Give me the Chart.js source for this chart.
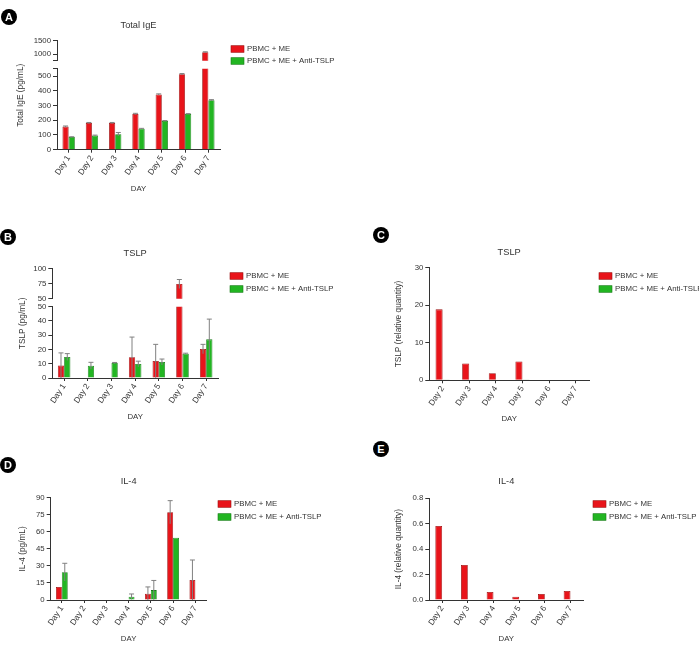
<!DOCTYPE html>
<html>
<head>
<meta charset="utf-8">
<script src="https://cdn.jsdelivr.net/npm/chart.js@4.4.1/dist/chart.umd.min.js"></script>
<style>
  html, body { margin: 0; padding: 0; background: #fff; }
  body { width: 699px; height: 646px; position: relative; overflow: hidden; }
  canvas { position: absolute; }
  .tag { position: absolute; width: 16px; height: 16px; border-radius: 50%; background: #000; color: #fff;
         font: bold 11px "Liberation Sans", Arial, sans-serif; line-height: 16px; text-align: center; z-index: 2; }
</style>
</head>
<body>
<canvas id="chartA"></canvas>
<canvas id="chartB"></canvas>
<canvas id="chartC"></canvas>
<canvas id="chartD"></canvas>
<canvas id="chartE"></canvas>
<div class="tag" style="left:1px;top:9px">A</div>
<div class="tag" style="left:0px;top:229px">B</div>
<div class="tag" style="left:373px;top:227px">C</div>
<div class="tag" style="left:0px;top:457px">D</div>
<div class="tag" style="left:373px;top:441px">E</div>
<script>
const days = ['Day 1', 'Day 2', 'Day 3', 'Day 4', 'Day 5', 'Day 6', 'Day 7'];
const daysRq = ['Day 2', 'Day 3', 'Day 4', 'Day 5', 'Day 6', 'Day 7'];
const nameMe = 'PBMC + ME';
const nameAnti = 'PBMC + ME + Anti-TSLP';

// A - Total IgE (pg/mL), broken axis
const igeMe = [157, 181, 181, 243, 375, 512, 1070];
const igeMeErr = [4, 4, 4, 4, 4, 5, 15];
const igeAnti = [86, 96, 105, 143, 196, 243, 336];
const igeAntiErr = [2, 3, 12, 2, 2, 2, 4];
const igeTopTicks = [750, 1000, 1500];
const igeTopLabels = ['', '1000', '1500'];
const igeLowTicks = [0, 100, 200, 300, 400, 500, 550];
const igeLowLabels = ['0', '100', '200', '300', '400', '500', ''];

// B - TSLP (pg/mL), broken axis
const tslpMe = [8.8, 0, 0, 14.5, 11.9, 74.5, 20.3];
const tslpMeErr = [8.8, 0, 0, 14.2, 11.7, 7.5, 3.3];
const tslpAnti = [14.7, 8.6, 10.5, 9.8, 11.2, 17, 27.1];
const tslpAntiErr = [2.4, 2.4, 0.4, 2, 2.1, 0.4, 14.2];
const tslpTopTicks = [50, 75, 100];
const tslpTopLabels = ['50', '75', '100'];
const tslpLowTicks = [0, 10, 20, 30, 40, 50];
const tslpLowLabels = ['0', '10', '20', '30', '40', '50'];

// C - TSLP (relative quantity)
const tslpRqMe = [18.9, 4.5, 1.9, 5.0, 0, 0];
const tslpRqAnti = [0.2, 0, 0, 0.1, 0, 0];
const tslpRqTicks = [0, 10, 20, 30];
const tslpRqLabels = ['0', '10', '20', '30'];

// D - IL-4 (pg/mL)
const il4Me = [11.5, 0, 0, 0, 5.5, 77.2, 17.6];
const il4MeErr = [0, 0, 0, 0, 6, 10.2, 17.6];
const il4Anti = [24.5, 0, 0, 2.9, 8.7, 54.8, 0];
const il4AntiErr = [7.8, 0, 0, 2.4, 8.5, 0, 0];
const il4Ticks = [0, 15, 30, 45, 60, 75, 90];
const il4Labels = ['0', '15', '30', '45', '60', '75', '90'];

// E - IL-4 (relative quantity)
const il4RqMe = [0.583, 0.276, 0.063, 0.026, 0.047, 0.071];
const il4RqAnti = [0, 0, 0, 0, 0, 0];
const il4RqTicks = [0, 0.2, 0.4, 0.6, 0.8];
const il4RqLabels = ['0.0', '0.2', '0.4', '0.6', '0.8'];

const font = '"Liberation Sans", Arial, sans-serif';
const ink = '#333';
const red = '#e8141a';
const redEdge = '#9a1010';
const green = '#22b522';
const greenEdge = '#177a17';
const TICK_SIZE = 7.8;
const DAY_SIZE = 8.2;
const TITLE_SIZE = 9.25;
const Y_W = 28;

const errorBars = {
  id: 'errorBars',
  afterDatasetsDraw(chart) {
    const ctx = chart.ctx;
    const a = chart.chartArea;
    chart.data.datasets.forEach((ds, d) => {
      if (!ds.errors) return;
      const meta = chart.getDatasetMeta(d);
      const ys = chart.scales[meta.yAxisID];
      ctx.save();
      ctx.beginPath();
      ctx.rect(a.left, ys.top - 2, a.right - a.left, ys.bottom - ys.top + 2);
      ctx.clip();
      ctx.strokeStyle = '#808080';
      ctx.lineWidth = 1;
      meta.data.forEach((bar, i) => {
        const e = ds.errors[i];
        if (!e) return;
        const v = ds.data[i];
        const top = ys.getPixelForValue(v + e);
        const bot = ys.getPixelForValue(Math.max(v - e, 0));
        ctx.beginPath();
        ctx.moveTo(bar.x, bot);
        ctx.lineTo(bar.x, top);
        ctx.moveTo(bar.x - 2.5, top);
        ctx.lineTo(bar.x + 2.5, top);
        ctx.stroke();
      });
      ctx.restore();
    });
  }
};

const sideLegend = {
  id: 'sideLegend',
  afterDraw(chart, args, opts) {
    const ctx = chart.ctx;
    ctx.save();
    ctx.font = TICK_SIZE + 'px ' + font;
    ctx.textBaseline = 'middle';
    chart.data.datasets.slice(0, 2).forEach((ds, k) => {
      const y = opts.y + k * opts.gap;
      ctx.fillStyle = ds.backgroundColor;
      ctx.fillRect(opts.x, y - 3.3, 13, 6.6);
      ctx.strokeStyle = ds.borderColor;
      ctx.lineWidth = 0.6;
      ctx.strokeRect(opts.x, y - 3.3, 13, 6.6);
      ctx.fillStyle = ink;
      ctx.fillText(ds.label, opts.x + 16, y);
    });
    ctx.restore();
  }
};

const yTitle = {
  id: 'yTitle',
  afterDraw(chart, args, opts) {
    const ctx = chart.ctx;
    const a = chart.chartArea;
    ctx.save();
    ctx.translate(opts.x, (a.top + a.bottom) / 2);
    ctx.rotate(-Math.PI / 2);
    ctx.font = '8.3px ' + font;
    ctx.fillStyle = ink;
    ctx.textAlign = 'center';
    ctx.textBaseline = 'middle';
    ctx.fillText(opts.text, 0, 0);
    ctx.restore();
  }
};

function yAxis(values, labels, extra) {
  return Object.assign({
    type: 'linear',
    position: 'left',
    stacked: false,
    min: values[0],
    max: values[values.length - 1],
    border: { color: ink, width: 1 },
    grid: { drawOnChartArea: false, tickLength: 4, color: ink, lineWidth: 1 },
    ticks: {
      color: ink, padding: 2, autoSkip: false,
      font: { family: font, size: TICK_SIZE },
      callback: (v, i) => labels[i]
    },
    afterBuildTicks: s => { s.ticks = values.map(v => ({ value: v })); },
    afterFit: s => { s.width = Y_W; }
  }, extra || {});
}

function gapAxis(stack, weight) {
  return {
    type: 'linear', position: 'left', stack: stack, stackWeight: weight,
    ticks: { display: false }, grid: { display: false }, border: { display: false },
    afterFit: s => { s.width = Y_W; }
  };
}

function bars(label, data, errors, color, edge, axis, stack) {
  return {
    label: label, data: data, errors: errors, yAxisID: axis, stack: stack,
    backgroundColor: color, borderColor: edge, borderWidth: 0.8,
    categoryPercentage: 0.53, barPercentage: 1
  };
}

function makePanel(id, box, area, cfg) {
  const canvas = document.getElementById(id);
  canvas.width = box.w;
  canvas.height = box.h;
  canvas.style.left = box.x + 'px';
  canvas.style.top = box.y + 'px';

  const titleLH = TITLE_SIZE * 1.2;
  const padTop = cfg.titleY - titleLH / 2 - box.y;
  const titleGap = area.t - (cfg.titleY + titleLH / 2);
  const xH = cfg.dayY + TICK_SIZE * 0.6 - area.b;

  const scales = Object.assign({
    x: {
      type: 'category',
      offset: true,
      border: { color: ink, width: 1 },
      grid: { offset: false, drawOnChartArea: false, tickLength: 3, color: ink },
      ticks: { color: ink, padding: 1, autoSkip: false, minRotation: 57, maxRotation: 57,
               font: { family: font, size: DAY_SIZE } },
      title: { display: true, text: 'DAY', color: ink, padding: 0, font: { family: font, size: TICK_SIZE } },
      afterFit: s => { s.height = xH; }
    }
  }, cfg.scales);

  return new Chart(canvas, {
    type: 'bar',
    data: { labels: cfg.labels, datasets: cfg.datasets },
    options: {
      responsive: false,
      animation: false,
      layout: {
        padding: {
          left: area.l - Y_W - box.x,
          right: box.x + box.w - area.r,
          top: padTop,
          bottom: box.y + box.h - area.b - xH
        }
      },
      scales: scales,
      plugins: {
        legend: { display: false },
        tooltip: { enabled: false },
        title: {
          display: true, text: cfg.title, fullSize: false, color: ink,
          font: { family: font, size: TITLE_SIZE, weight: 'normal' },
          padding: { top: 0, bottom: titleGap }
        },
        sideLegend: { x: cfg.legend[0] - box.x, y: cfg.legend[1] - box.y, gap: cfg.legend[2] },
        yTitle: { x: cfg.yTitleX - box.x, text: cfg.yTitle }
      }
    },
    plugins: [errorBars, sideLegend, yTitle]
  });
}

// A (stacked left scales are placed bottom-up in definition order)
makePanel('chartA', { x: 0, y: 18, w: 372, h: 190 }, { l: 57, r: 220, t: 40.7, b: 149.7 }, {
  title: 'Total IgE', yTitle: 'Total IgE (pg/mL)', yTitleX: 21, titleY: 25.5, dayY: 189,
  legend: [231, 49, 12], labels: days,
  datasets: [
    bars(nameMe, igeMe, igeMeErr, red, redEdge, 'yLow', 'me'),
    bars(nameAnti, igeAnti, igeAntiErr, green, greenEdge, 'yLow', 'anti'),
    bars(nameMe, igeMe, igeMeErr, red, redEdge, 'yTop', 'me'),
    bars(nameAnti, igeAnti, igeAntiErr, green, greenEdge, 'yTop', 'anti')
  ],
  scales: {
    yLow: yAxis(igeLowTicks, igeLowLabels, { stack: 'ige', stackWeight: 81 }),
    yGap: gapAxis('ige', 8),
    yTop: yAxis(igeTopTicks, igeTopLabels, { stack: 'ige', stackWeight: 20 })
  }
});

// B
makePanel('chartB', { x: 0, y: 240, w: 372, h: 185 }, { l: 52.3, r: 218, t: 268.7, b: 378 }, {
  title: 'TSLP', yTitle: 'TSLP (pg/mL)', yTitleX: 22.7, titleY: 253.3, dayY: 417,
  legend: [230, 276, 13], labels: days,
  datasets: [
    bars(nameMe, tslpMe, tslpMeErr, red, redEdge, 'yLow', 'me'),
    bars(nameAnti, tslpAnti, tslpAntiErr, green, greenEdge, 'yLow', 'anti'),
    bars(nameMe, tslpMe, tslpMeErr, red, redEdge, 'yTop', 'me'),
    bars(nameAnti, tslpAnti, tslpAntiErr, green, greenEdge, 'yTop', 'anti')
  ],
  scales: {
    yLow: yAxis(tslpLowTicks, tslpLowLabels, { stack: 'tslp', stackWeight: 71.3 }),
    yGap: gapAxis('tslp', 8),
    yTop: yAxis(tslpTopTicks, tslpTopLabels, { stack: 'tslp', stackWeight: 30 })
  }
});

// C
makePanel('chartC', { x: 376, y: 240, w: 323, h: 185 }, { l: 429.3, r: 589, t: 267.7, b: 380.3 }, {
  title: 'TSLP', yTitle: 'TSLP (relative quantity)', yTitleX: 398.3, titleY: 252.7, dayY: 419,
  legend: [599, 276, 13], labels: daysRq,
  datasets: [
    bars(nameMe, tslpRqMe, null, red, redEdge, 'y', 'me'),
    bars(nameAnti, tslpRqAnti, null, green, greenEdge, 'y', 'anti')
  ],
  scales: { y: yAxis(tslpRqTicks, tslpRqLabels) }
});

// D
makePanel('chartD', { x: 0, y: 470, w: 372, h: 176 }, { l: 50.7, r: 206.5, t: 497.7, b: 600 }, {
  title: 'IL-4', yTitle: 'IL-4 (pg/mL)', yTitleX: 22.5, titleY: 481.7, dayY: 639,
  legend: [218, 504, 13], labels: days,
  datasets: [
    bars(nameMe, il4Me, il4MeErr, red, redEdge, 'y', 'me'),
    bars(nameAnti, il4Anti, il4AntiErr, green, greenEdge, 'y', 'anti')
  ],
  scales: { y: yAxis(il4Ticks, il4Labels) }
});

// E
makePanel('chartE', { x: 376, y: 470, w: 323, h: 176 }, { l: 429.3, r: 583.3, t: 498.3, b: 600 }, {
  title: 'IL-4', yTitle: 'IL-4 (relative quantity)', yTitleX: 398.3, titleY: 481.7, dayY: 639,
  legend: [593, 504, 13], labels: daysRq,
  datasets: [
    bars(nameMe, il4RqMe, null, red, redEdge, 'y', 'me'),
    bars(nameAnti, il4RqAnti, null, green, greenEdge, 'y', 'anti')
  ],
  scales: { y: yAxis(il4RqTicks, il4RqLabels) }
});
</script>
</body>
</html>
